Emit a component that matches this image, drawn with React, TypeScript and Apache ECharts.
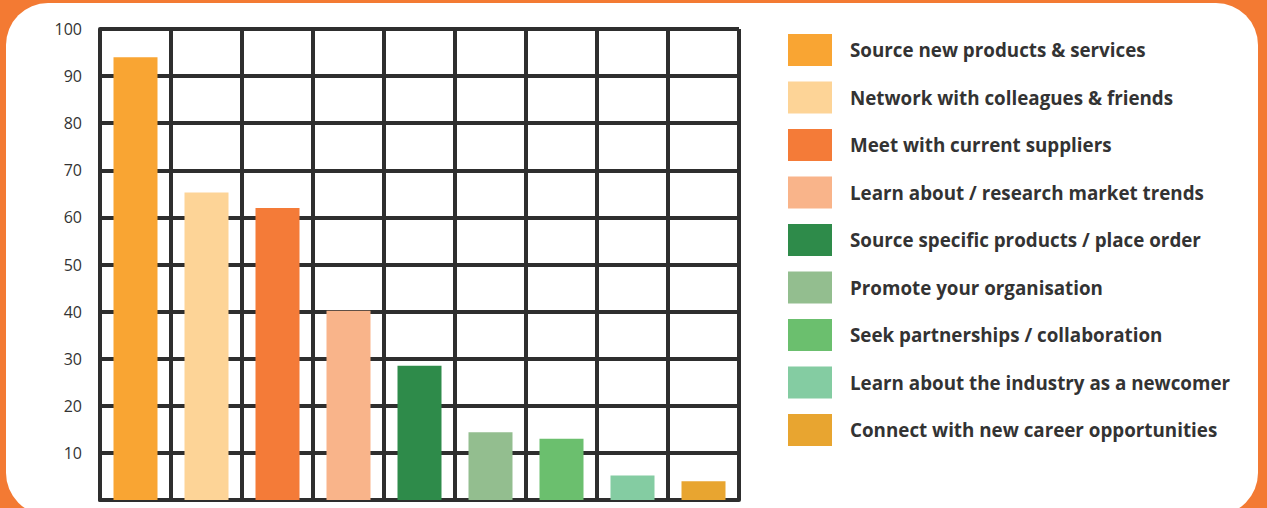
import React, { useEffect, useRef } from "react";
import * as echarts from "echarts";

const categories = [
  "Source new products & services",
  "Network with colleagues & friends",
  "Meet with current suppliers",
  "Learn about / research market trends",
  "Source specific products / place order",
  "Promote your organisation",
  "Seek partnerships / collaboration",
  "Learn about the industry as a newcomer",
  "Connect with new career opportunities",
];

const values = [94, 65.3, 62, 40.2, 28.5, 14.4, 13, 5.2, 4];

const colors = [
  "#F9A533",
  "#FDD497",
  "#F47B38",
  "#F9B48A",
  "#2E8B4A",
  "#93BE8F",
  "#6BBF6E",
  "#84CCA2",
  "#E8A530",
];

const yTicks = [0, 10, 20, 30, 40, 50, 60, 70, 80, 90, 100];

export default function App() {
  const ref = useRef<HTMLDivElement>(null);
  useEffect(() => {
    if (!ref.current) return;
    const chart = echarts.init(ref.current, null, { renderer: "svg" });
    const gridColor = "#2e2e2e";
    chart.setOption({
      animation: false,
      backgroundColor: "#F37A33",
      graphic: [
        {
          type: "rect",
          z: -100,
          silent: true,
          shape: { x: 6, y: 3, width: 1252, height: 512, r: 42 },
          style: { fill: "#ffffff" },
        },
      ],
      grid: { left: 100, right: 528, top: 29, bottom: 8 },
      legend: {
        orient: "vertical",
        left: 788,
        top: 34,
        padding: 0,
        icon: "rect",
        itemWidth: 44,
        itemHeight: 32,
        itemGap: 15.5,
        selectedMode: false,
        data: categories,
        textStyle: {
          fontFamily: "Open Sans",
          fontWeight: "bold",
          fontSize: 18.8,
          color: "#333333",
          padding: [0, 0, 0, 13],
        },
      },
      xAxis: {
        type: "category",
        data: categories,
        axisLabel: { show: false, interval: 0 },
        axisTick: { show: false, interval: 0 },
        axisLine: { show: true, lineStyle: { color: gridColor, width: 4 } },
        splitLine: {
          show: true,
          interval: 0,
          lineStyle: { color: gridColor, width: 4 },
        },
      },
      yAxis: {
        type: "value",
        min: yTicks[0],
        max: yTicks[yTicks.length - 1],
        interval: 10,
        axisTick: { show: false },
        axisLine: { show: true, lineStyle: { color: gridColor, width: 4 } },
        splitLine: { show: true, lineStyle: { color: gridColor, width: 4 } },
        axisLabel: {
          margin: 18,
          fontFamily: "Open Sans",
          fontSize: 16,
          color: "#333333",
          formatter: (v: number) => (v === 0 ? "" : String(v)),
        },
      },
      series: categories.map((name, i) => ({
        name,
        type: "bar",
        barWidth: 44,
        barGap: "-100%",
        itemStyle: { color: colors[i] },
        data: values.map((v, j) => (j === i ? v : null)),
      })),
    });
    return () => chart.dispose();
  }, []);
  return (
    <div
      ref={ref}
      style={{ position: "fixed", left: 0, top: 0, width: 1267, height: 508 }}
    />
  );
}
